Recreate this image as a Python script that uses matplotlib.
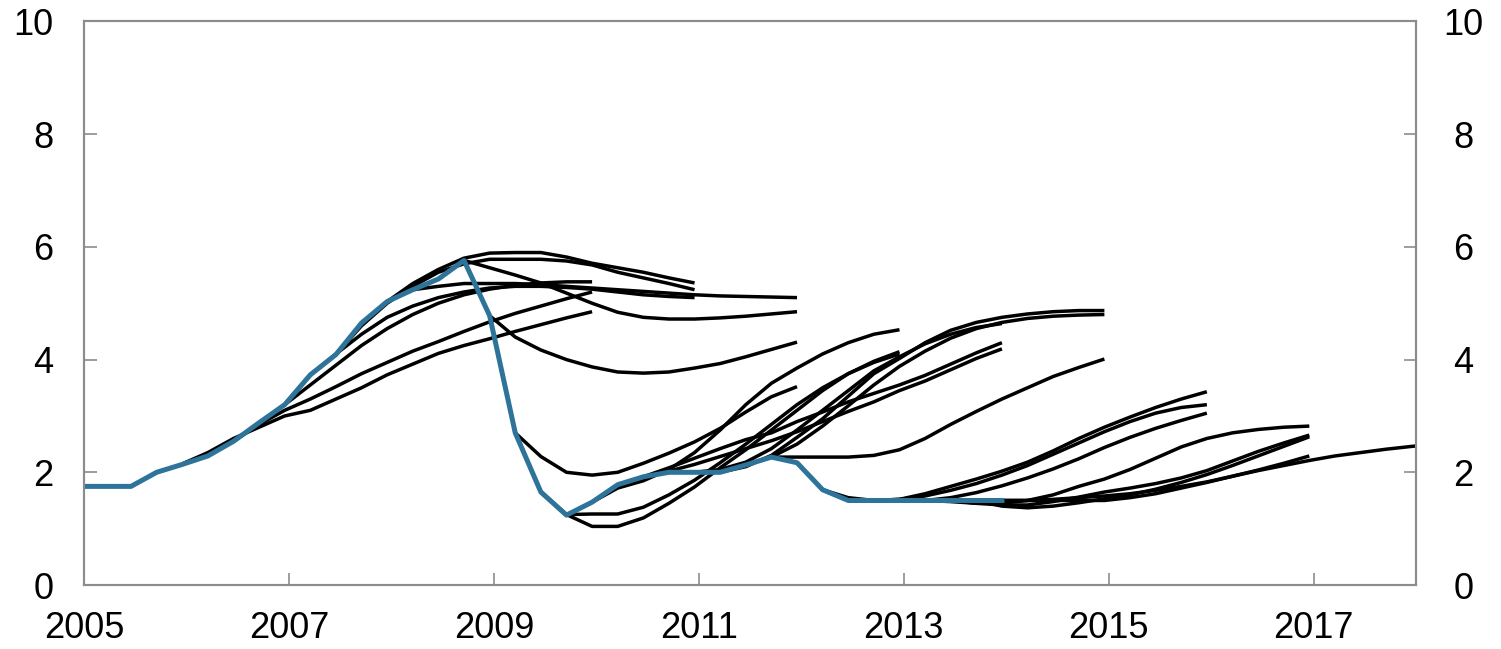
import numpy as np
import matplotlib
matplotlib.use("Agg")
import matplotlib.pyplot as plt

plt.rcParams['font.family'] = ['Liberation Sans', 'DejaVu Sans']

# key policy rate, quarterly, first point is 2004Q4
policy_start = "2004Q4"
policy_rate = [1.75, 1.75, 1.75, 2.0, 2.14, 2.29, 2.55, 2.88, 3.2, 3.73, 4.09, 4.65,
               5.03, 5.24, 5.43, 5.76, 4.78, 2.70, 1.65, 1.24, 1.47, 1.78, 1.92, 2.0,
               2.0, 2.0, 2.13, 2.27, 2.17, 1.69, 1.5, 1.5, 1.5, 1.5, 1.5, 1.5, 1.5]

# forecast paths: (first quarter, values)
f_06a = ("2005Q4", [2.15, 2.35, 2.6, 2.8, 3.0, 3.1, 3.3, 3.5, 3.73, 3.92, 4.11, 4.25, 4.37, 4.5, 4.62, 4.74, 4.85])
f_06b = ("2006Q2", [2.55, 2.85, 3.1, 3.3, 3.52, 3.75, 3.95, 4.15, 4.32, 4.5, 4.67, 4.82, 4.95, 5.08, 5.2])
f_06c = ("2006Q4", [3.2, 3.55, 3.9, 4.25, 4.55, 4.8, 5.0, 5.15, 5.25, 5.32, 5.36, 5.38, 5.38])
f_07a = ("2007Q1", [3.73, 4.1, 4.45, 4.75, 4.95, 5.1, 5.2, 5.27, 5.3, 5.3, 5.28, 5.25, 5.2, 5.15, 5.12, 5.1])
f_07b = ("2007Q2", [4.09, 4.6, 5.0, 5.3, 5.55, 5.7, 5.78, 5.78, 5.78, 5.75, 5.68, 5.55, 5.45, 5.35, 5.24])
f_07c = ("2007Q4", [5.03, 5.35, 5.6, 5.8, 5.89, 5.9, 5.9, 5.82, 5.71, 5.63, 5.55, 5.45, 5.36])
f_08a = ("2008Q1", [5.24, 5.3, 5.35, 5.35, 5.35, 5.33, 5.3, 5.27, 5.24, 5.21, 5.18, 5.15, 5.13, 5.12, 5.11, 5.1])
f_08b = ("2008Q3", [5.76, 5.63, 5.5, 5.36, 5.18, 5.0, 4.84, 4.75, 4.72, 4.72, 4.74, 4.77, 4.81, 4.85])
f_08c = ("2008Q4", [4.78, 4.4, 4.17, 4.0, 3.87, 3.78, 3.76, 3.78, 3.85, 3.93, 4.05, 4.18, 4.31])
f_09a = ("2009Q1", [2.7, 2.28, 2.0, 1.95, 2.0, 2.16, 2.34, 2.54, 2.78, 3.07, 3.34, 3.52])
f_09b = ("2009Q2", [1.65, 1.25, 1.04, 1.04, 1.19, 1.45, 1.74, 2.08, 2.4, 2.75, 3.1, 3.45, 3.75, 3.97, 4.14])
f_09c = ("2009Q3", [1.25, 1.26, 1.26, 1.38, 1.6, 1.86, 2.17, 2.5, 2.85, 3.2, 3.5, 3.75, 3.95, 4.1])
f_09d = ("2009Q4", [1.47, 1.72, 1.85, 2.05, 2.35, 2.75, 3.2, 3.58, 3.85, 4.1, 4.3, 4.45, 4.53])
f_10a = ("2010Q1", [1.78, 1.92, 2.08, 2.25, 2.42, 2.58, 2.7, 2.9, 3.07, 3.25, 3.4, 3.55, 3.72, 3.92, 4.12, 4.3])
f_10b = ("2010Q2", [1.92, 2.02, 2.14, 2.28, 2.42, 2.56, 2.72, 2.9, 3.08, 3.25, 3.45, 3.62, 3.82, 4.02, 4.19])
f_10c = ("2010Q4", [2.0, 2.05, 2.18, 2.42, 2.75, 3.1, 3.45, 3.8, 4.05, 4.28, 4.45, 4.57, 4.64])
f_11a = ("2011Q1", [2.0, 2.1, 2.3, 2.62, 2.95, 3.35, 3.75, 4.02, 4.3, 4.52, 4.66, 4.75, 4.81, 4.85, 4.87, 4.87])
f_11b = ("2011Q2", [2.13, 2.27, 2.5, 2.82, 3.18, 3.55, 3.88, 4.15, 4.38, 4.55, 4.66, 4.73, 4.77, 4.79, 4.8])
f_11c = ("2011Q3", [2.27, 2.27, 2.27, 2.27, 2.3, 2.4, 2.6, 2.85, 3.08, 3.3, 3.5, 3.7, 3.86, 4.01])
f_12a = ("2012Q1", [1.69, 1.55, 1.5, 1.52, 1.62, 1.75, 1.88, 2.02, 2.18, 2.38, 2.6, 2.8, 2.98, 3.15, 3.3, 3.43])
f_12b = ("2012Q2", [1.5, 1.5, 1.52, 1.58, 1.68, 1.8, 1.95, 2.12, 2.32, 2.52, 2.72, 2.9, 3.05, 3.15, 3.2])
f_12c = ("2012Q3", [1.5, 1.5, 1.5, 1.55, 1.64, 1.76, 1.9, 2.06, 2.24, 2.44, 2.62, 2.78, 2.92, 3.05])
f_13a = ("2013Q1", [1.5, 1.48, 1.45, 1.45, 1.5, 1.6, 1.75, 1.88, 2.05, 2.25, 2.45, 2.6, 2.7, 2.76, 2.8, 2.82])
f_13b = ("2013Q2", [1.5, 1.45, 1.42, 1.42, 1.48, 1.56, 1.65, 1.72, 1.8, 1.9, 2.03, 2.2, 2.37, 2.52, 2.66])
f_13c = ("2013Q3", [1.5, 1.4, 1.37, 1.4, 1.46, 1.53, 1.6, 1.7, 1.82, 1.96, 2.12, 2.29, 2.46, 2.63])
f_13d = ("2013Q4", [1.5, 1.5, 1.52, 1.55, 1.58, 1.62, 1.68, 1.75, 1.83, 1.93, 2.04, 2.16, 2.29])
f_14a = ("2013Q4", [1.5, 1.5, 1.5, 1.5, 1.5, 1.55, 1.62, 1.72, 1.82, 1.93, 2.03, 2.12, 2.21, 2.29, 2.35, 2.41, 2.46, 2.5])

forecasts = [f_06a, f_06b, f_06c, f_07a, f_07b, f_07c, f_08a, f_08b, f_08c,
             f_09a, f_09b, f_09c, f_09d, f_10a, f_10b, f_10c, f_11a, f_11b, f_11c,
             f_12a, f_12b, f_12c, f_13a, f_13b, f_13c, f_13d, f_14a]


def quarter_x(label, n):
    # values are dated in the middle of the last month of each quarter
    year, q = int(label[:4]), int(label[-1])
    return year + (3 * q - 0.5) / 12 + 0.25 * np.arange(n)


blue = "#2e7399"
grey = "#8c8c8c"

fig = plt.figure(figsize=(15.01, 6.49), dpi=100)
ax = fig.add_axes([0.056, 0.0986, 0.8874, 0.8683])

for start, vals in forecasts:
    ax.plot(quarter_x(start, len(vals)), vals, color="black", lw=2.5,
            solid_capstyle="butt", zorder=2)
ax.plot(quarter_x(policy_start, len(policy_rate)), policy_rate, color=blue,
        lw=3.6, zorder=3)

ax.set_xlim(2005, 2018)
ax.set_ylim(0, 10)
ax.set_xticks(range(2005, 2018, 2))
ax.set_yticks(range(0, 11, 2))

ax2 = ax.twinx()
ax2.set_ylim(0, 10)
ax2.set_yticks(range(0, 11, 2))

for a in (ax, ax2):
    for s in a.spines.values():
        s.set_color(grey)
        s.set_linewidth(1.5)
ax.tick_params(direction="in", length=9, width=1.2, color=grey,
               labelsize=26, pad=22)
ax.tick_params(axis="x", pad=19)
ax2.tick_params(direction="in", length=9, width=1.2, color=grey,
                labelsize=26, pad=34)
for lab in ax2.get_yticklabels():
    lab.set_horizontalalignment("center")

fig.savefig("out.png", dpi=100)
